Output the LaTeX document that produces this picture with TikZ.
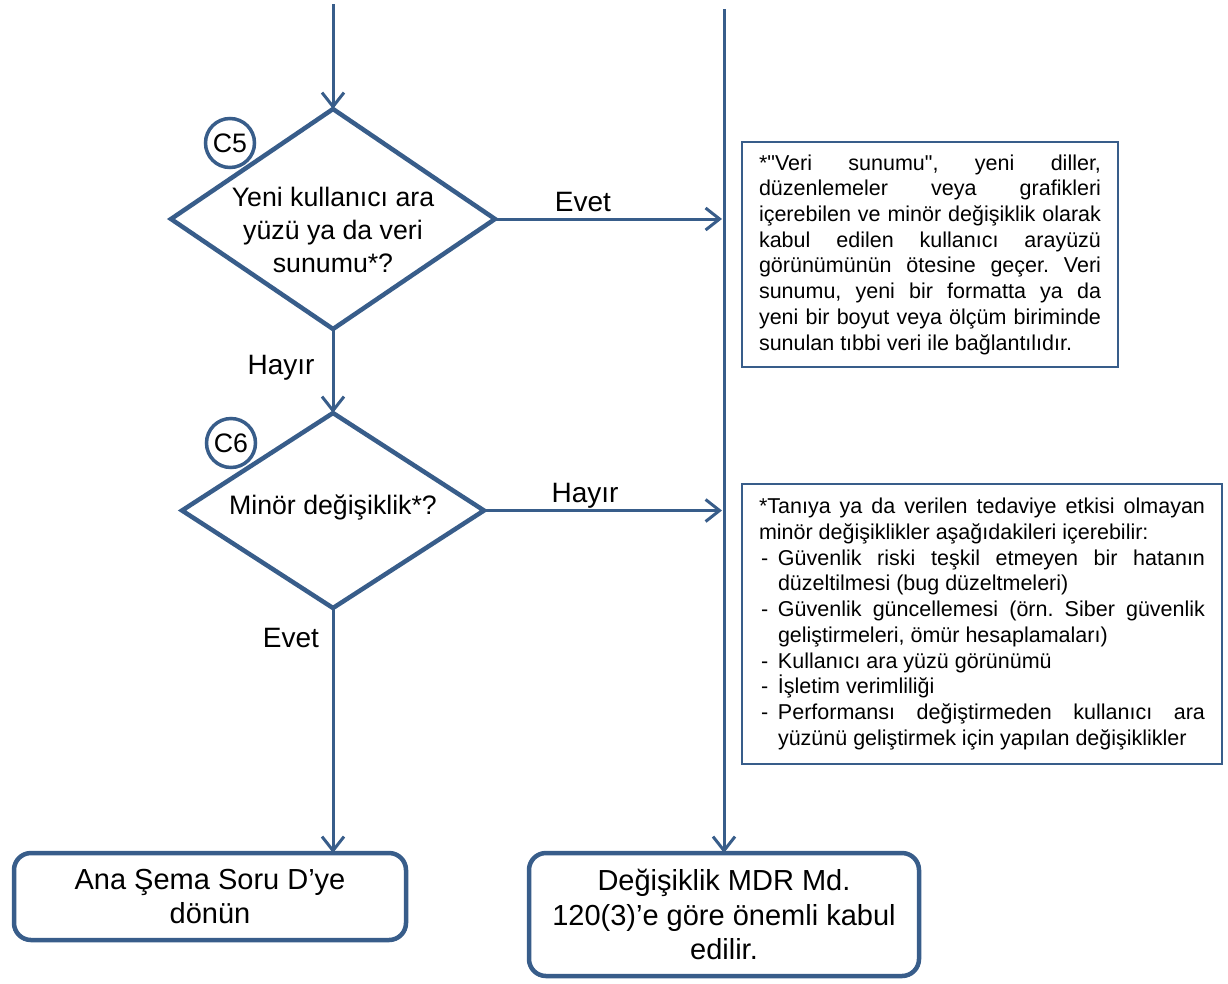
\documentclass[tikz,border=0pt]{standalone}
\usepackage{fontspec}
\setmainfont{Liberation Sans}[Ligatures=TeXOff]
\usetikzlibrary{shapes.geometric,arrows.meta}
\definecolor{flowblue}{HTML}{385D8A}
\frenchspacing

% one dash-led entry of a note, with a hanging indent for its wrapped lines
\newcommand{\noteitem}[1]{\par\hangindent=19pt\hangafter=1\noindent\makebox[19pt][l]{\hspace{2pt}-}#1\par}

\tikzset{
  decision/.style={diamond, draw=flowblue, line width=4.5pt, fill=white,
    inner sep=0pt, outer sep=0pt},
  tagmark/.style={circle, draw=flowblue, line width=3.5pt, fill=white,
    minimum size=49pt, inner sep=0pt, outer sep=0pt,
    font=\fontsize{26.7}{30}\selectfont},
  qtext/.style={align=center, inner sep=0pt, font=\fontsize{26.7}{33}\selectfont},
  endbox/.style={rectangle, rounded corners=17pt, draw=flowblue, line width=4.5pt,
    fill=white, align=center, inner sep=0pt, outer sep=0pt,
    font=\fontsize{29}{34.5}\selectfont},
  notebox/.style={rectangle, draw=flowblue, line width=2.5pt, fill=white,
    inner xsep=17pt, inner ysep=0pt, outer sep=0pt,
    font=\fontsize{21.5}{25.7}\selectfont},
  flow/.style={draw=flowblue, line width=3pt,
    -{Straight Barb[length=14pt,width=22pt]}},
  flowlabel/.style={anchor=base, inner sep=0pt, font=\fontsize{28}{32}\selectfont}
}

\begin{document}
\begin{tikzpicture}[x=1pt,y=-1pt]
\useasboundingbox (0,0) rectangle (1228,983);

% decisions
\node[decision, minimum width=324pt, minimum height=220pt] (c5) at (333,219) {};
\node[decision, minimum width=302pt, minimum height=195pt] (c6) at (333,510.5) {};
\node[qtext] (c5q) at (333,230) {Yeni kullanıcı ara\\yüzü ya da veri\\sunumu*?};
\node[qtext] (c6q) at (333,507) {Minör değişiklik*?};
\node[tagmark] (t5) at (230,143) {C5};
\node[tagmark] (t6) at (231,443) {C6};

% outcomes
\node[endbox, minimum width=392pt, minimum height=87pt] (back) at (210,896.5)
  {Ana Şema Soru D’ye\\dönün};
\node[endbox, minimum width=390pt, minimum height=123pt] (res) at (724,914.5)
  {Değişiklik MDR Md.\\120(3)’e göre önemli kabul\\edilir.};

% explanatory notes
\node[notebox, minimum width=376pt, minimum height=225pt] (n1) at (930,254.5) {%
  \begin{minipage}{342pt}\hyphenpenalty=10000\exhyphenpenalty=10000
  *"Veri sunumu", yeni diller,\linebreak
  düzenlemeler veya grafikleri\linebreak
  içerebilen ve minör değişiklik olarak\linebreak
  kabul edilen kullanıcı arayüzü\linebreak
  görünümünün ötesine geçer. Veri\linebreak
  sunumu, yeni bir formatta ya da\linebreak
  yeni bir boyut veya ölçüm biriminde\linebreak
  sunulan tıbbi veri ile bağlantılıdır.
  \end{minipage}};
\node[notebox, minimum width=480pt, minimum height=280pt] (n2) at (982,624) {%
  \begin{minipage}{446pt}\hyphenpenalty=10000\exhyphenpenalty=10000
  *Tanıya ya da verilen tedaviye etkisi olmayan\linebreak
  minör değişiklikler aşağıdakileri içerebilir:\par
  \noteitem{Güvenlik riski teşkil etmeyen bir hatanın\linebreak düzeltilmesi (bug düzeltmeleri)}
  \noteitem{Güvenlik güncellemesi (örn. Siber güvenlik\linebreak geliştirmeleri, ömür hesaplamaları)}
  \noteitem{Kullanıcı ara yüzü görünümü}
  \noteitem{İşletim verimliliği}
  \noteitem{Performansı değiştirmeden kullanıcı ara\linebreak yüzünü geliştirmek için yapılan değişiklikler}
  \end{minipage}};

% incoming lines and junction points on the right trunk
\coordinate (srcL) at (333,4);
\coordinate (srcR) at (724,9);
\coordinate (joinA) at (722,219);
\coordinate (joinB) at (722,510.5);

% connectors
\draw[flow] (srcL) -- (c5.north);
\draw[flow] (c5.east) -- (joinA);
\draw[flow] (c5.south) -- (c6.north);
\draw[flow] (c6.east) -- (joinB);
\draw[flow] (c6.south) -- (c6.south |- back.north);
\draw[flow] (srcR) -- (srcR |- res.north);

% branch labels
\node[flowlabel] (ly1) at (583,211) {Evet};
\node[flowlabel] (ln1) at (281,374) {Hayır};
\node[flowlabel] (ln2) at (585,502) {Hayır};
\node[flowlabel] (ly2) at (291,647) {Evet};
\end{tikzpicture}
\end{document}
